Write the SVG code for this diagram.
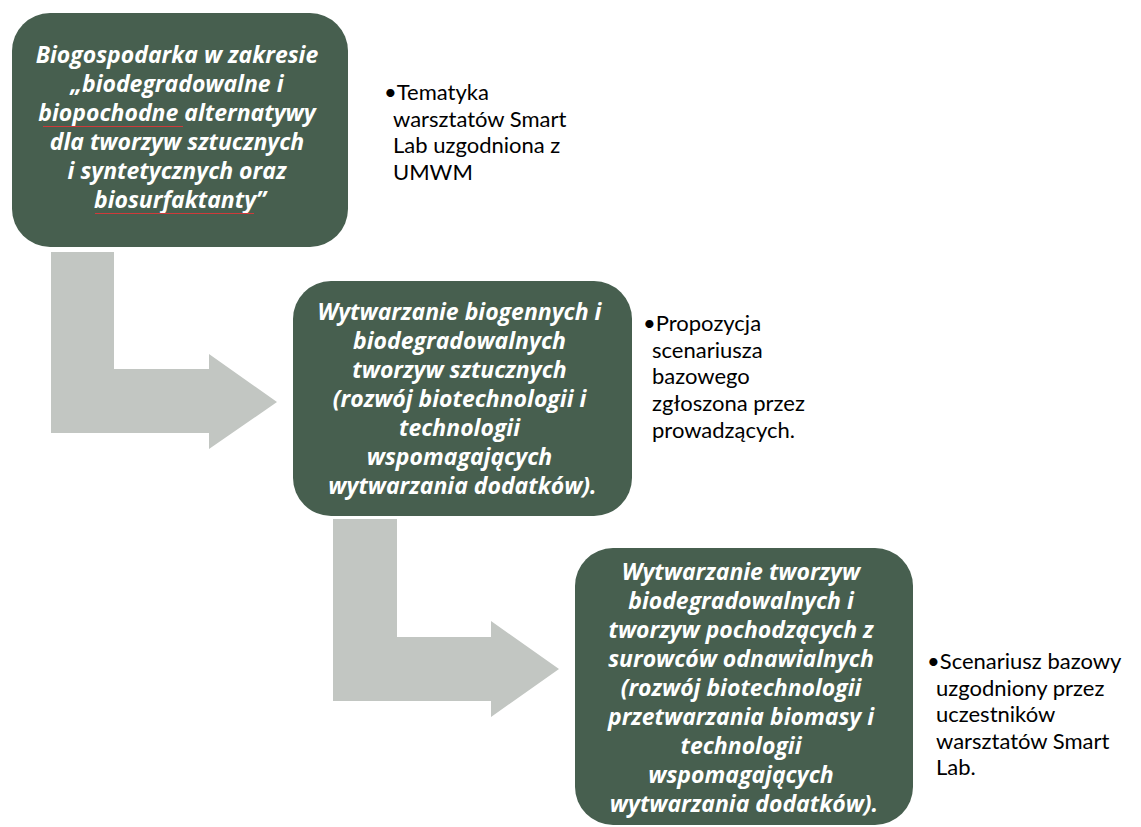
<svg xmlns="http://www.w3.org/2000/svg" width="1141" height="827" viewBox="0 0 1141 827">
  <style>
    .box { fill: #475F4F; }
    .bend { fill: #C2C6C2; }
    .lbl { font-family: "Open Sans", "Liberation Sans", sans-serif; font-weight: bold; font-style: italic; fill: #FFFFFF; text-anchor: middle; font-size: 23px; }
    .note { font-family: Lato, "Liberation Sans", sans-serif; fill: #000000; font-size: 22px; }
    .spell { stroke: #D03A3A; stroke-width: 1.2; fill: none; }
  </style>
  <rect width="1141" height="827" fill="#FFFFFF"/>

  <!-- bent arrows leading from one stage to the next -->
  <g id="connectors">
    <path class="bend" d="M51,252 H114 V369 H209 V354 L277,402 L209,449 V433 H51 Z"/>
    <path class="bend" d="M333,519 H397 V637 H491 V621 L559,669 L491,717 V701 H333 Z"/>
  </g>

  <!-- stage 1 -->
  <g id="stage1">
    <rect class="box" x="12" y="13" width="336" height="234" rx="38"/>
    <text class="lbl">
      <tspan x="180" y="63">Biogospodarka w zakresie</tspan>
      <tspan x="180" y="92">„biodegradowalne i</tspan>
      <tspan x="180" y="121">biopochodne alternatywy</tspan>
      <tspan x="180" y="150">dla tworzyw sztucznych</tspan>
      <tspan x="180" y="179">i syntetycznych oraz</tspan>
      <tspan x="180" y="208">biosurfaktanty”</tspan>
    </text>
    <!-- proofing marks under two words -->
    <path class="spell" d="M43,126.5 H183 M95,213.5 H254"/>
  </g>
  <g id="note1">
    <text class="note">
      <tspan x="384" y="100">•Tematyka</tspan>
      <tspan x="393" y="127">warsztatów Smart</tspan>
      <tspan x="393" y="153">Lab uzgodniona z</tspan>
      <tspan x="393" y="180">UMWM</tspan>
    </text>
  </g>

  <!-- stage 2 -->
  <g id="stage2">
    <rect class="box" x="293" y="281" width="339" height="235" rx="38"/>
    <text class="lbl">
      <tspan x="462.5" y="320">Wytwarzanie biogennych i</tspan>
      <tspan x="462.5" y="349">biodegradowalnych</tspan>
      <tspan x="462.5" y="378">tworzyw sztucznych</tspan>
      <tspan x="462.5" y="407">(rozwój biotechnologii i</tspan>
      <tspan x="462.5" y="436">technologii</tspan>
      <tspan x="462.5" y="465">wspomagających</tspan>
      <tspan x="462.5" y="494">wytwarzania dodatków).</tspan>
    </text>
  </g>
  <g id="note2">
    <text class="note">
      <tspan x="643" y="331">•Propozycja</tspan>
      <tspan x="652" y="358">scenariusza</tspan>
      <tspan x="652" y="384">bazowego</tspan>
      <tspan x="652" y="411">zgłoszona przez</tspan>
      <tspan x="652" y="438">prowadzących.</tspan>
    </text>
  </g>

  <!-- stage 3 -->
  <g id="stage3">
    <rect class="box" x="575" y="548" width="338" height="277" rx="38"/>
    <text class="lbl">
      <tspan x="744" y="580">Wytwarzanie tworzyw</tspan>
      <tspan x="744" y="609">biodegradowalnych i</tspan>
      <tspan x="744" y="638">tworzyw pochodzących z</tspan>
      <tspan x="744" y="667">surowców odnawialnych</tspan>
      <tspan x="744" y="696">(rozwój biotechnologii</tspan>
      <tspan x="744" y="725">przetwarzania biomasy i</tspan>
      <tspan x="744" y="754">technologii</tspan>
      <tspan x="744" y="783">wspomagających</tspan>
      <tspan x="744" y="812">wytwarzania dodatków).</tspan>
    </text>
  </g>
  <g id="note3">
    <text class="note">
      <tspan x="927" y="669">•Scenariusz bazowy</tspan>
      <tspan x="936" y="696">uzgodniony przez</tspan>
      <tspan x="936" y="722">uczestników</tspan>
      <tspan x="936" y="749">warsztatów Smart</tspan>
      <tspan x="936" y="775">Lab.</tspan>
    </text>
  </g>
</svg>
